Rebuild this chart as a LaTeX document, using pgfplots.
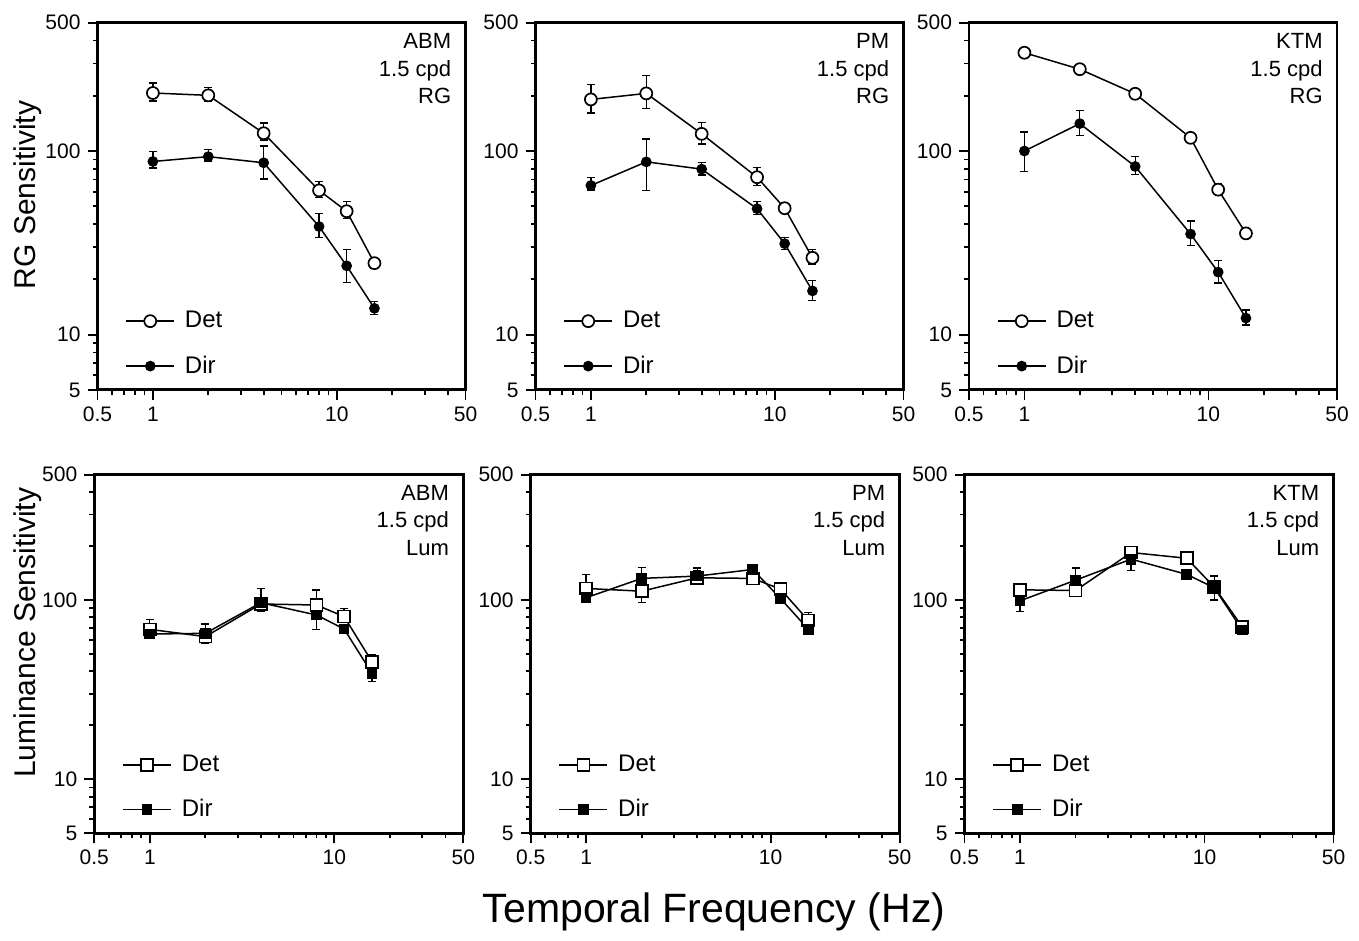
\documentclass[border=0pt]{standalone}
\usepackage{fontspec}
\setmainfont{Liberation Sans}
\usepackage{pgfplots}
\pgfplotsset{compat=1.18}
\pgfplotsset{
  legend image code/.code={\draw[mark repeat=2,mark phase=2,#1] plot coordinates {(0pt,0pt)(12pt,0pt)(24pt,0pt)};},
  mydet/.style={black, line width=0.75pt, mark=*, mark size=3pt, mark options={fill=white, solid, line width=0.85pt},
    error bars/.cd, y dir=both, y explicit, error mark options={rotate=90, mark size=2pt, line width=0.65pt}, error bar style={line width=0.65pt}},
  mydir/.style={black, line width=0.75pt, mark=*, mark size=2.3pt, mark options={fill=black, solid},
    error bars/.cd, y dir=both, y explicit, error mark options={rotate=90, mark size=2pt, line width=0.65pt}, error bar style={line width=0.65pt}},
  mydetsq/.style={black, line width=0.75pt, mark=square*, mark size=3pt, mark options={fill=white, solid, line width=0.85pt},
    error bars/.cd, y dir=both, y explicit, error mark options={rotate=90, mark size=2pt, line width=0.65pt}, error bar style={line width=0.65pt}},
  mydirsq/.style={black, line width=0.75pt, mark=square*, mark size=2.3pt, mark options={fill=black, solid},
    error bars/.cd, y dir=both, y explicit, error mark options={rotate=90, mark size=2pt, line width=0.65pt}, error bar style={line width=0.65pt}},
}
\newcommand{\plabel}[1]{\node[anchor=north east, align=right, inner sep=0pt, font=\fontsize{11}{13.8}\selectfont] at (axis description cs:0.962,0.972) {#1};}
\begin{document}
\begin{tikzpicture}
\path[use as bounding box] (0,0) rectangle (679.5pt,470.5pt);
% ---------- Top row ----------
\begin{axis}[at={(48.75pt,459.15pt)}, anchor=north west, width=184pt, height=183.6pt,
    scale only axis, xmode=log, ymode=log,
    xmin=0.5, xmax=50, ymin=5, ymax=500,
    xtick={0.5,1,10,50}, xticklabels={0.5,1,10,50},
    ytick={5,10,100,500}, yticklabels={5,10,100,500},
    minor xtick={0.6,0.7,0.8,0.9,2,3,4,5,6,7,8,9,20,30,40},
    minor ytick={6,7,8,9,20,30,40,50,60,70,80,90,200,300,400},
    tick align=outside, xtick pos=bottom, ytick pos=left,
    major tick length=5pt, minor tick length=2.5pt,
    axis line style={line width=1.4pt},
    every tick/.style={black, line width=0.9pt},
    tick label style={font=\fontsize{10.5}{10.5}\selectfont},
    legend style={draw=none, fill=none, inner sep=0pt, at={(axis description cs:0.075,0.025)}, anchor=south west,
      row sep=8.5pt, column sep=3pt, font=\fontsize{12}{12}\selectfont},
    legend cell align=left,
  ylabel={RG Sensitivity}, ylabel style={font=\fontsize{15}{15}\selectfont, anchor=center, at={(axis description cs:-0.19,0.531)}}]
\addplot[mydet] table[x=x,y=y,y error plus=ep,y error minus=em] {
x y ep em
1 207 28 20
2 201 21 15
4 125 17 10
8 61 7.5 5
11.3 47 6 4
16 24.5 1.5 1.5
};
\addplot[mydir] table[x=x,y=y,y error plus=ep,y error minus=em] {
x y ep em
1 87.7 12 7
2 93.2 9 5
4 86.3 20 16
8 38.8 7 5
11.3 23.7 5.4 4.4
16 13.9 1.2 1
};
\legend{Det,Dir}
\plabel{ABM\\1.5 cpd\\RG}
\end{axis}
\begin{axis}[at={(267.75pt,459.15pt)}, anchor=north west, width=184pt, height=183.6pt,
    scale only axis, xmode=log, ymode=log,
    xmin=0.5, xmax=50, ymin=5, ymax=500,
    xtick={0.5,1,10,50}, xticklabels={0.5,1,10,50},
    ytick={5,10,100,500}, yticklabels={5,10,100,500},
    minor xtick={0.6,0.7,0.8,0.9,2,3,4,5,6,7,8,9,20,30,40},
    minor ytick={6,7,8,9,20,30,40,50,60,70,80,90,200,300,400},
    tick align=outside, xtick pos=bottom, ytick pos=left,
    major tick length=5pt, minor tick length=2.5pt,
    axis line style={line width=1.4pt},
    every tick/.style={black, line width=0.9pt},
    tick label style={font=\fontsize{10.5}{10.5}\selectfont},
    legend style={draw=none, fill=none, inner sep=0pt, at={(axis description cs:0.075,0.025)}, anchor=south west,
      row sep=8.5pt, column sep=3pt, font=\fontsize{12}{12}\selectfont},
    legend cell align=left]
\addplot[mydet] table[x=x,y=y,y error plus=ep,y error minus=em] {
x y ep em
1 191 40 30
2 206 51 36
4 124 19 15
8 72 9 7
11.3 48.8 3 3
16 26.2 3 2
};
\addplot[mydir] table[x=x,y=y,y error plus=ep,y error minus=em] {
x y ep em
1 64.9 6.7 3.5
2 87.3 29 26.6
4 79.7 6.8 5.7
8 48.5 4.7 3.5
11.3 31.3 2.5 2.3
16 17.3 2.5 1.9
};
\legend{Det,Dir}
\plabel{PM\\1.5 cpd\\RG}
\end{axis}
\begin{axis}[at={(484.5pt,459.15pt)}, anchor=north west, width=184pt, height=183.6pt,
    scale only axis, xmode=log, ymode=log,
    xmin=0.5, xmax=50, ymin=5, ymax=500,
    xtick={0.5,1,10,50}, xticklabels={0.5,1,10,50},
    ytick={5,10,100,500}, yticklabels={5,10,100,500},
    minor xtick={0.6,0.7,0.8,0.9,2,3,4,5,6,7,8,9,20,30,40},
    minor ytick={6,7,8,9,20,30,40,50,60,70,80,90,200,300,400},
    tick align=outside, xtick pos=bottom, ytick pos=left,
    major tick length=5pt, minor tick length=2.5pt,
    axis line style={line width=1.4pt},
    every tick/.style={black, line width=0.9pt},
    tick label style={font=\fontsize{10.5}{10.5}\selectfont},
    legend style={draw=none, fill=none, inner sep=0pt, at={(axis description cs:0.075,0.025)}, anchor=south west,
      row sep=8.5pt, column sep=3pt, font=\fontsize{12}{12}\selectfont},
    legend cell align=left]
\addplot[mydet] table[x=x,y=y,y error plus=ep,y error minus=em] {
x y ep em
1 343 12 12
2 279 17 13
4 205 6 6
8 118 6 6
11.3 61.6 5 3
16 35.6 1.5 1.5
};
\addplot[mydir] table[x=x,y=y,y error plus=ep,y error minus=em] {
x y ep em
1 100 27 22.6
2 141 25 19
4 82.4 11 8
8 35.3 6.3 4.6
11.3 21.9 3.4 2.8
16 12.3 1.3 1
};
\legend{Det,Dir}
\plabel{KTM\\1.5 cpd\\RG}
\end{axis}
% ---------- Bottom row ----------
\begin{axis}[at={(47.15pt,233.15pt)}, anchor=north west, width=184.5pt, height=179.3pt,
    scale only axis, xmode=log, ymode=log,
    xmin=0.5, xmax=50, ymin=5, ymax=500,
    xtick={0.5,1,10,50}, xticklabels={0.5,1,10,50},
    ytick={5,10,100,500}, yticklabels={5,10,100,500},
    minor xtick={0.6,0.7,0.8,0.9,2,3,4,5,6,7,8,9,20,30,40},
    minor ytick={6,7,8,9,20,30,40,50,60,70,80,90,200,300,400},
    tick align=outside, xtick pos=bottom, ytick pos=left,
    major tick length=5pt, minor tick length=2.5pt,
    axis line style={line width=1.4pt},
    every tick/.style={black, line width=0.9pt},
    tick label style={font=\fontsize{10.5}{10.5}\selectfont},
    legend style={draw=none, fill=none, inner sep=0pt, at={(axis description cs:0.075,0.025)}, anchor=south west,
      row sep=8.5pt, column sep=3pt, font=\fontsize{12}{12}\selectfont},
    legend cell align=left,
  ylabel={Luminance Sensitivity}, ylabel style={font=\fontsize{15}{15}\selectfont, anchor=center, at={(axis description cs:-0.18,0.559)}}]
\addplot[mydetsq] table[x=x,y=y,y error plus=ep,y error minus=em] {
x y ep em
1 68.6 9 4
2 62.5 11 5
4 95 6 9
8 93.8 20 8
11.3 80.8 9 6
16 45.3 4 3
};
\addplot[mydirsq] table[x=x,y=y,y error plus=ep,y error minus=em] {
x y ep em
1 64.6 3 3.5
2 65.2 4 3
4 96.6 19 5
8 82.5 8 13.9
11.3 68.9 4 4
16 39 3 4
};
\legend{Det,Dir}
\plabel{ABM\\1.5 cpd\\Lum}
\end{axis}
\begin{axis}[at={(265.3pt,233.15pt)}, anchor=north west, width=184.5pt, height=179.3pt,
    scale only axis, xmode=log, ymode=log,
    xmin=0.5, xmax=50, ymin=5, ymax=500,
    xtick={0.5,1,10,50}, xticklabels={0.5,1,10,50},
    ytick={5,10,100,500}, yticklabels={5,10,100,500},
    minor xtick={0.6,0.7,0.8,0.9,2,3,4,5,6,7,8,9,20,30,40},
    minor ytick={6,7,8,9,20,30,40,50,60,70,80,90,200,300,400},
    tick align=outside, xtick pos=bottom, ytick pos=left,
    major tick length=5pt, minor tick length=2.5pt,
    axis line style={line width=1.4pt},
    every tick/.style={black, line width=0.9pt},
    tick label style={font=\fontsize{10.5}{10.5}\selectfont},
    legend style={draw=none, fill=none, inner sep=0pt, at={(axis description cs:0.075,0.025)}, anchor=south west,
      row sep=8.5pt, column sep=3pt, font=\fontsize{12}{12}\selectfont},
    legend cell align=left]
\addplot[mydetsq] table[x=x,y=y,y error plus=ep,y error minus=em] {
x y ep em
1 116 23 10
2 112 15 15.4
4 133 18 8
8 132 6 7
11.3 115 4 4
16 77 8 4
};
\addplot[mydirsq] table[x=x,y=y,y error plus=ep,y error minus=em] {
x y ep em
1 103 6 5
2 132 20 8
4 136 10 6
8 148 4 4
11.3 102 4 4
16 68.7 3 3
};
\legend{Det,Dir}
\plabel{PM\\1.5 cpd\\Lum}
\end{axis}
\begin{axis}[at={(482.25pt,233.15pt)}, anchor=north west, width=184.5pt, height=179.3pt,
    scale only axis, xmode=log, ymode=log,
    xmin=0.5, xmax=50, ymin=5, ymax=500,
    xtick={0.5,1,10,50}, xticklabels={0.5,1,10,50},
    ytick={5,10,100,500}, yticklabels={5,10,100,500},
    minor xtick={0.6,0.7,0.8,0.9,2,3,4,5,6,7,8,9,20,30,40},
    minor ytick={6,7,8,9,20,30,40,50,60,70,80,90,200,300,400},
    tick align=outside, xtick pos=bottom, ytick pos=left,
    major tick length=5pt, minor tick length=2.5pt,
    axis line style={line width=1.4pt},
    every tick/.style={black, line width=0.9pt},
    tick label style={font=\fontsize{10.5}{10.5}\selectfont},
    legend style={draw=none, fill=none, inner sep=0pt, at={(axis description cs:0.075,0.025)}, anchor=south west,
      row sep=8.5pt, column sep=3pt, font=\fontsize{12}{12}\selectfont},
    legend cell align=left]
\addplot[mydetsq] table[x=x,y=y,y error plus=ep,y error minus=em] {
x y ep em
1 114 8 8
2 113 6 6
4 184 6 6
8 171 6 6
11.3 118 18 6
16 71 3 3
};
\addplot[mydirsq] table[x=x,y=y,y error plus=ep,y error minus=em] {
x y ep em
1 99 8 12.5
2 129 22 6
4 169 14 23
8 139 4 4
11.3 117 5 17
16 68 3 3
};
\legend{Det,Dir}
\plabel{KTM\\1.5 cpd\\Lum}
\end{axis}
\node[font=\fontsize{20.5}{20.5}\selectfont] at (357pt,14.5pt) {Temporal Frequency (Hz)};
\end{tikzpicture}
\end{document}
